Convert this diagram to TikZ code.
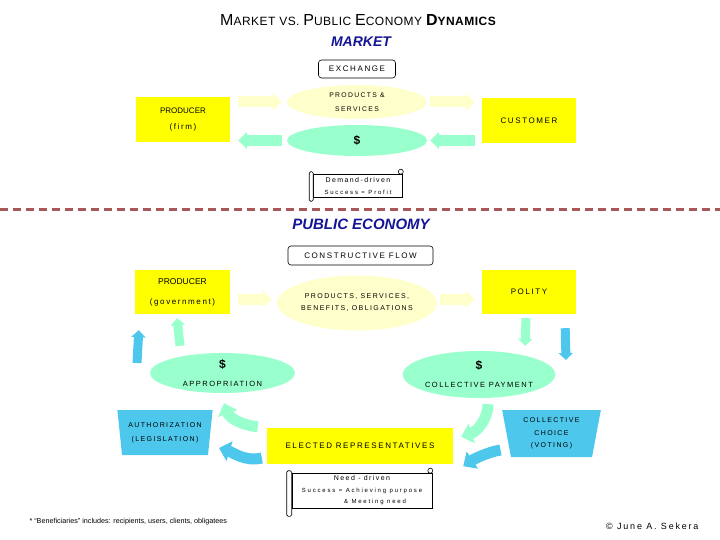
\documentclass[tikz,border=0pt]{standalone}
\usepackage{fontspec}
\setmainfont{Liberation Sans}
\newfontfamily\spaced[LetterSpace=20]{Liberation Sans}
\newfontfamily\wider[LetterSpace=30]{Liberation Sans}
\newfontfamily\titlefont[LetterSpace=4]{Liberation Sans}
\usepackage{tikz}
\usetikzlibrary{shapes.geometric,arrows.meta}

\definecolor{boxyellow}{RGB}{255,255,0}
\definecolor{paleyellow}{RGB}{255,255,204}
\definecolor{mint}{RGB}{153,255,204}
\definecolor{skyblue}{RGB}{77,200,236}
\definecolor{headblue}{RGB}{20,20,150}
\definecolor{divider}{RGB}{168,88,88}

\newcommand{\ttlbig}{\fontsize{16}{18}\selectfont}
\newcommand{\ttlsmall}{\fontsize{12}{14}\selectfont}

\tikzset{
  box/.style={fill=boxyellow, inner sep=0pt, minimum width=94pt, minimum height=45pt, align=center},
  oval/.style={ellipse, inner sep=0pt, align=center},
  trap/.style={trapezium, trapezium stretches=true, shape border rotate=180, trapezium angle=79, fill=skyblue, inner sep=0pt, align=center},
  tag/.style={draw, line width=0.6pt, rounded corners=3pt, inner sep=0pt, font=\spaced\fontsize{8}{10}\selectfont},
  scrollbox/.style={draw, line width=0.6pt, inner sep=0pt, align=center},
  heading/.style={text=headblue, font=\bfseries\itshape\fontsize{14}{16}\selectfont},
  flow/.style={line width=11pt, -{Triangle[width=17pt,length=9pt]}},
  stub/.style={line width=9pt, -{Triangle[width=14pt,length=7pt]}},
  swing/.style={line width=11pt, -{Triangle[width=20pt,length=11pt]}}
}

\begin{document}
\begin{tikzpicture}[x=1pt,y=-1pt]
\useasboundingbox (0,0) rectangle (720,540);

% headings
\node (title) at (358,20) {\titlefont\ttlbig M\ttlsmall ARKET VS. \ttlbig P\ttlsmall UBLIC \ttlbig E\ttlsmall CONOMY \bfseries\ttlbig D\ttlsmall YNAMICS};
\node[heading] (mk) at (361,42) {MARKET};

% market
\node[tag, minimum width=77pt, minimum height=18pt] (EX) at (357,69) {EXCHANGE};
\node[box, font=\fontsize{8}{16}\selectfont] (P1) at (183,120) {PRODUCER\\{\spaced (firm)}};
\node[box, font=\spaced\fontsize{8}{10}\selectfont] (C1) at (529,120.5) {CUSTOMER};
\node[oval, fill=paleyellow, minimum width=140pt, minimum height=34pt, font=\spaced\fontsize{6.8}{14}\selectfont] (PS) at (357,102) {PRODUCTS \&\\SERVICES};
\node[oval, fill=mint, minimum width=140pt, minimum height=31pt, font=\bfseries\fontsize{12}{14}\selectfont] (D1) at (357,140.5) {\$};

\draw[flow, paleyellow, shorten <=8pt, shorten >=5pt] (P1.east |- PS.west) -- (PS.west);
\draw[flow, paleyellow, shorten <=3pt, shorten >=7pt] (PS.east) -- (C1.west |- PS.east);
\draw[flow, mint, shorten <=5pt, shorten >=8pt] (D1.west) -- (P1.east |- D1.west);
\draw[flow, mint, shorten <=7pt, shorten >=3pt] (C1.west |- D1.east) -- (D1.east);

\node[scrollbox, minimum width=89pt, minimum height=23pt, font=\fontsize{6}{12}\selectfont] (S1) at (358,185.5) {{\spaced\fontsize{7}{12}\selectfont Demand-driven}\\{\wider Success = Profit}};
\draw[line width=0.6pt, rounded corners=1.5pt, fill=white] ([xshift=-4pt,yshift=2pt]S1.north west) rectangle ([yshift=-4pt]S1.south west);
\draw[line width=0.6pt] ([xshift=-2pt,yshift=2pt]S1.north east) circle (2.5pt);

% divider
\draw[divider, line width=3pt, dash pattern=on 8pt off 5pt] (0,210) -- (720,210);

% public economy
\node[heading, font=\bfseries\itshape\fontsize{15}{17}\selectfont] (pe) at (361,224) {PUBLIC ECONOMY};
\node[tag, minimum width=145pt, minimum height=19pt] (CF) at (360.5,255.5) {CONSTRUCTIVE FLOW};

\node[box, minimum width=95pt, minimum height=44pt, font=\fontsize{8.5}{20}\selectfont] (P2) at (182.5,292) {PRODUCER\\{\spaced\fontsize{8}{20}\selectfont (government)}};
\node[box, minimum height=44pt, font=\spaced\fontsize{8}{10}\selectfont] (PO) at (529,292) {POLITY};
\node[oval, fill=paleyellow, minimum width=160pt, minimum height=55pt, font=\spaced\fontsize{7}{12}\selectfont] (PB) at (357,303) {PRODUCTS, SERVICES,\\BENEFITS, OBLIGATIONS};

\coordinate (pbw) at ([yshift=4pt]PB.west);
\coordinate (pbe) at ([yshift=4pt]PB.east);
\draw[flow, paleyellow, shorten <=8pt, shorten >=5pt] (P2.east |- pbw) -- (pbw);
\draw[flow, paleyellow, shorten <=3pt, shorten >=7pt] (pbe) -- (PO.west |- pbe);

\node[oval, fill=mint, minimum width=145pt, minimum height=40pt, font=\spaced\fontsize{7.5}{18}\selectfont] (AP) at (222.5,373) {{\normalfont\bfseries\fontsize{12}{18}\selectfont\$}\\APPROPRIATION};
\node[oval, fill=mint, minimum width=132pt, minimum height=47pt, font=\spaced\fontsize{7.5}{18}\selectfont] (CP) at (479,374.5) {{\normalfont\bfseries\fontsize{12}{18}\selectfont\$}\\COLLECTIVE PAYMENT};

\node[trap, minimum width=96pt, minimum height=45pt, font=\spaced\fontsize{7}{14}\selectfont] (AU) at (165,432.5) {AUTHORIZATION\\(LEGISLATION)};
\node[trap, minimum width=99pt, minimum height=47pt, font=\spaced\fontsize{7}{12.5}\selectfont] (CC) at (551.5,433.5) {COLLECTIVE\\CHOICE\\(VOTING)};
\node[box, minimum width=186pt, minimum height=36pt, font=\spaced\fontsize{8}{10}\selectfont] (ER) at (360,446) {ELECTED REPRESENTATIVES};

% feedback loop
\draw[stub, mint] ([xshift=-42.5pt,yshift=7pt]AP.north) -- ([xshift=-5.5pt,yshift=-4pt]P2.south);
\draw[stub, skyblue] ([xshift=-28pt,yshift=69.5pt]AU.center) -- ([xshift=4pt,yshift=-16pt]P2.south west);
\draw[stub, mint] ([xshift=-3pt,yshift=-4pt]PO.south) -- ([xshift=46pt,yshift=5pt]CP.north);
\draw[stub, skyblue] ([xshift=-11pt,yshift=-14pt]PO.south east) -- ([xshift=14.5pt,yshift=73.5pt]CC.center);

\draw[swing, mint] ([xshift=-9pt,yshift=1pt]ER.north west) .. controls (240,425) and (229,417) .. ([xshift=1.5pt,yshift=-10pt]AP.south);
\draw[swing, skyblue] ([xshift=-5pt,yshift=-12pt]ER.west) .. controls (245,462) and (232,452) .. ([xshift=54pt,yshift=-15.5pt]AU.center);
\draw[swing, mint] ([xshift=9pt,yshift=-6pt]CP.south) .. controls (488,420) and (476,432) .. ([xshift=8pt,yshift=-9pt]ER.north east);
\draw[swing, skyblue] ([xshift=-51pt,yshift=-16.5pt]CC.center) .. controls (488,452) and (474,459) .. ([xshift=10pt,yshift=-2pt]ER.south east);

\node[scrollbox, minimum width=140pt, minimum height=35pt, font=\wider\fontsize{6}{11.5}\selectfont] (S2) at (362,490.5) {{\spaced\fontsize{7}{11.5}\selectfont Need - driven}\\Success = Achieving purpose\\\hspace*{26pt}\& Meeting need};
\draw[line width=0.6pt, rounded corners=1.5pt, fill=white] ([xshift=-5pt,yshift=2pt]S2.north west) rectangle ([yshift=-8pt]S2.south west);
\draw[line width=0.6pt] ([xshift=-2pt,yshift=2pt]S2.north east) circle (2.5pt);

% footer
\node[anchor=west, font=\fontsize{7.2}{8}\selectfont] (note) at (26,522) {* “Beneficiaries” includes: recipients, users, clients, obligatees};
\node[anchor=east, font=\spaced\fontsize{9}{10}\selectfont] (copy) at (702,526) {© June A. Sekera};

\end{tikzpicture}
\end{document}
